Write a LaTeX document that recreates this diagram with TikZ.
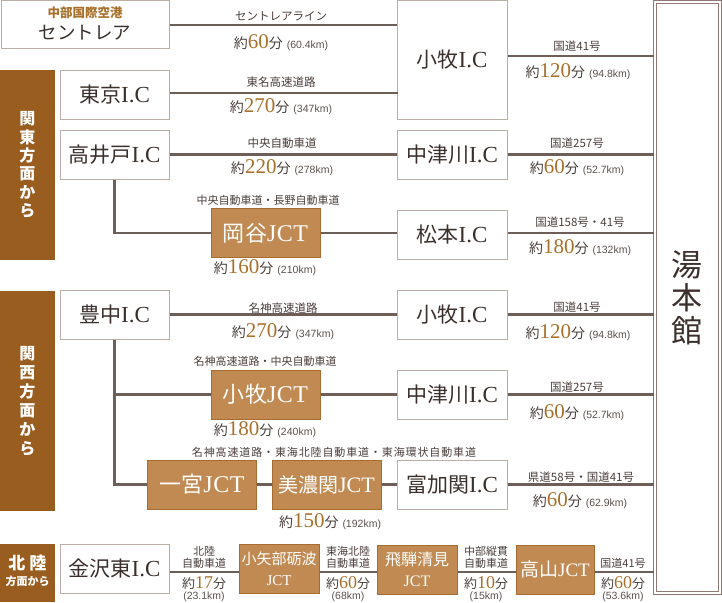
\documentclass[tikz,border=0pt]{standalone}
\usepackage{fontspec}
\setmainfont{Liberation Serif}
\setsansfont{Liberation Sans}
\newfontfamily\cjk{Noto Sans CJK JP}
\newfontfamily\ser{Liberation Serif}
\definecolor{linec}{HTML}{6D5E58}
\definecolor{icb}{HTML}{BCAEA6}
\definecolor{jctfill}{HTML}{C08A52}
\definecolor{jctb}{HTML}{A76C31}
\definecolor{bandc}{HTML}{9A5D20}
\definecolor{numc}{HTML}{A8702A}
\definecolor{txt}{HTML}{3B302C}
\definecolor{lab}{HTML}{4A3F3B}
\definecolor{kmc}{HTML}{5A504C}
\definecolor{framec}{HTML}{8E7A73}
\newcommand\travtime[2]{{\cjk\fontsize{14}{16}\selectfont 約}{\ser\fontsize{21}{21}\selectfont\color{numc}#1}{\cjk\fontsize{14}{16}\selectfont 分}\hspace{4pt}{\sffamily\fontsize{10.5}{11}\selectfont\color{kmc}(#2)}}
\newcommand\travsmall[1]{{\cjk\fontsize{13}{14}\selectfont 約}{\ser\fontsize{18}{18}\selectfont\color{numc}#1}{\cjk\fontsize{13}{14}\selectfont 分}}
\newcommand\IC{{\ser\fontsize{23}{24}\selectfont I.C}}
\newcommand\JCT{{\ser\fontsize{24}{24}\selectfont J\kern0.5pt C\kern0.5pt T}}
\newcommand\JCTs{{\ser\fontsize{22}{24}\selectfont JCT}}
\begin{document}
\begin{tikzpicture}[x=1pt,y=-1pt,
 ic/.style={draw=icb,line width=1pt,fill=white,minimum width=109pt,minimum height=49pt,inner sep=0pt,text=txt,font=\cjk\fontsize{21}{24}\selectfont},
 jct/.style={draw=jctb,line width=1pt,fill=jctfill,minimum width=109pt,minimum height=49pt,inner sep=0pt,text=white,font=\cjk\fontsize{22}{24}\selectfont},
 sjct/.style={jct,minimum width=80pt,align=center,font=\cjk\fontsize{15}{21}\selectfont},
 band/.style={fill=bandc,minimum width=55pt,inner sep=0pt,text=white,align=center,font=\cjk\bfseries\fontsize{16}{18.4}\selectfont},
 road/.style={text=lab,font=\cjk\fontsize{11.5}{13}\selectfont,inner sep=0pt},
 sroad/.style={text=lab,font=\cjk\fontsize{11}{11.5}\selectfont,inner sep=0pt,align=center},
 km/.style={text=kmc,font=\sffamily\fontsize{10.5}{11}\selectfont,inner sep=0pt},
 tm/.style={text=lab,inner sep=0pt},
 conn/.style={draw=linec,line width=2.2pt}]
\useasboundingbox (0,0) rectangle (722,602);
% bands
\node[band,minimum height=190pt] (kanto) at (27.5,165) {関\\東\\方\\面\\か\\ら};
\node[band,minimum height=220pt,font=\cjk\bfseries\fontsize{16}{19}\selectfont] (kansai) at (27.5,401) {関\\西\\方\\面\\か\\ら};
\node[band,minimum height=58pt] (hokuriku) at (27.5,573) {};
\node[text=white,font=\cjk\bfseries\fontsize{17}{18}\selectfont,inner sep=0pt] (hokut) at (27.5,563) {北\hspace{4pt}陸};
\node[text=white,font=\cjk\bfseries\fontsize{11}{12}\selectfont,inner sep=0pt] (hokub) at (27.5,581) {方面から};
% destination
\node[draw=framec,double=white,double distance=2pt,line width=1pt,minimum width=65pt,minimum height=590pt,inner sep=0pt,text=txt,align=center,font=\cjk\fontsize{31}{33}\selectfont] (yumoto) at (687,297.5) {湯\\本\\館};
% IC nodes
\node[ic,minimum width=168pt,minimum height=48pt] (centrair) at (85,25) {};
\node[text=numc,font=\cjk\bfseries\fontsize{12.5}{14}\selectfont,inner sep=0pt] (centrairt) at (85,13) {中部国際空港};
\node[text=txt,font=\cjk\fontsize{18.5}{22}\selectfont,inner sep=0pt] (centrairn) at (85,33) {セントレア};
\node[ic,minimum width=110pt,minimum height=118pt] (komaki1) at (452,60) {小牧\IC};
\node[ic] (tokyo) at (114.5,94.5) {東京\IC};
\node[ic] (takaido) at (114.5,154.5) {高井戸\IC};
\node[ic,minimum width=110pt] (nakatsu1) at (452,154.5) {中津川\IC};
\node[jct] (okaya) at (265.5,233) {岡谷\JCT};
\node[ic,minimum width=110pt] (matsumoto) at (452,234.5) {松本\IC};
\node[ic] (toyonaka) at (114.5,314.5) {豊中\IC};
\node[ic,minimum width=110pt] (komaki2) at (452,314.5) {小牧\IC};
\node[jct] (komakijct) at (265.5,394.5) {小牧\JCT};
\node[ic,minimum width=110pt] (nakatsu2) at (452,394.5) {中津川\IC};
\node[jct] (ichinomiya) at (202,484.5) {一宮\JCT};
\node[jct,font=\cjk\fontsize{20}{24}\selectfont] (minoseki) at (326.5,484.5) {美濃関\JCTs};
\node[ic,minimum width=110pt] (tomika) at (452,484.5) {富加関\IC};
\node[ic] (kanazawa) at (114.5,568.5) {金沢東\IC};
\node[sjct] (oyabe) at (279,569) {小矢部砺波\\{\ser JCT}};
\node[sjct,font=\cjk\fontsize{16}{21}\selectfont] (hida) at (417,569.5) {飛騨清見\\{\ser JCT}};
\node[jct,minimum width=78pt,font=\cjk\fontsize{19}{21}\selectfont] (takayama) at (555,569.5) {高山{\ser JCT}};
% connectors
\draw[conn] (centrair.east) -- (centrair.east -| komaki1.west);
\draw[conn] (tokyo.east) ++(0,-1.5) -- ++(228,0);
\draw[conn] (komaki1.east) ++(0,-4) coordinate (k1e) -- (k1e -| yumoto.west);
\draw[conn] (takaido.east) -- (nakatsu1.west);
\draw[conn] (nakatsu1.east) -- (nakatsu1.east -| yumoto.west);
\draw[conn] (takaido.south) |- (okaya.west);
\draw[conn] (okaya.east) -- (okaya.east -| matsumoto.west);
\draw[conn] (matsumoto.east) ++(0,-1.5) coordinate (mae) -- (mae -| yumoto.west);
\draw[conn] (toyonaka.east) -- (komaki2.west);
\draw[conn] (komaki2.east) -- (komaki2.east -| yumoto.west);
\draw[conn] (toyonaka.south) |- (ichinomiya.west);
\draw[conn] (toyonaka.south |- komakijct.west) -- (komakijct.west);
\draw[conn] (komakijct.east) -- (nakatsu2.west);
\draw[conn] (nakatsu2.east) -- (nakatsu2.east -| yumoto.west);
\draw[conn] (ichinomiya.east) -- (minoseki.west);
\draw[conn] (minoseki.east) -- (tomika.west);
\draw[conn] (tomika.east) -- (tomika.east -| yumoto.west);
\draw[conn] (kanazawa.east) ++(0,3.5) coordinate (kze) -- (kze -| oyabe.west);
\draw[conn] (oyabe.east) ++(0,3) coordinate (oye) -- (oye -| hida.west);
\draw[conn] (hida.east) ++(0,2.5) coordinate (hie) -- (hie -| takayama.west);
\draw[conn] (takayama.east) ++(0,2.5) coordinate (tae) -- (tae -| yumoto.west);
% labels
\node[road] (l1a) at (281,16) {セントレアライン};
\node[tm] (l1b) at (281,43) {\travtime{60}{60.4km}};
\node[road] (l2a) at (281,82) {東名高速道路};
\node[tm] (l2b) at (281,107) {\travtime{270}{347km}};
\node[road] (l3a) at (577,46) {国道41号};
\node[tm] (l3b) at (578,72) {\travtime{120}{94.8km}};
\node[road] (l4a) at (282,143) {中央自動車道};
\node[tm] (l4b) at (282,168) {\travtime{220}{278km}};
\node[road] (l5a) at (577,143) {国道257号};
\node[tm] (l5b) at (577,168) {\travtime{60}{52.7km}};
\node[road,font=\cjk\fontsize{11}{13}\selectfont] (l6a) at (268,200) {中央自動車道・長野自動車道};
\node[tm] (l6b) at (265,268) {\travtime{160}{210km}};
\node[road] (l7a) at (580,222) {国道158号・41号};
\node[tm] (l7b) at (580,248) {\travtime{180}{132km}};
\node[road] (l8a) at (283,308) {名神高速道路};
\node[tm] (l8b) at (283,332) {\travtime{270}{347km}};
\node[road] (l9a) at (577,307) {国道41号};
\node[tm] (l9b) at (578,333) {\travtime{120}{94.8km}};
\node[road,font=\cjk\fontsize{11}{13}\selectfont] (l10a) at (265,361) {名神高速道路・中央自動車道};
\node[tm] (l10b) at (265,430) {\travtime{180}{240km}};
\node[road] (l11a) at (577,387) {国道257号};
\node[tm] (l11b) at (577,413) {\travtime{60}{52.7km}};
\node[road,font=\cjk\fontsize{11}{13}\selectfont\addfontfeature{LetterSpace=8}] (l12a) at (334,452) {名神高速道路・東海北陸自動車道・東海環状自動車道};
\node[tm] (l12b) at (330,522) {\travtime{150}{192km}};
\node[road] (l13a) at (581,477) {県道58号・国道41号};
\node[tm] (l13b) at (580,501) {\travtime{60}{62.9km}};
% bottom row labels
\node[sroad] (b1a) at (204,557.5) {北陸\\自動車道};
\node[tm] (b1b) at (204,583) {\travsmall{17}};
\node[km] (b1c) at (204,597) {(23.1km)};
\node[sroad] (b2a) at (348,557.5) {東海北陸\\自動車道};
\node[tm] (b2b) at (348,583) {\travsmall{60}};
\node[km] (b2c) at (348,597) {(68km)};
\node[sroad] (b3a) at (486,557.5) {中部縦貫\\自動車道};
\node[tm] (b3b) at (486,583) {\travsmall{10}};
\node[km] (b3c) at (486,597) {(15km)};
\node[sroad] (b4a) at (623,563) {国道41号};
\node[tm] (b4b) at (623,583) {\travsmall{60}};
\node[km] (b4c) at (623,597) {(53.6km)};
\end{tikzpicture}
\end{document}
